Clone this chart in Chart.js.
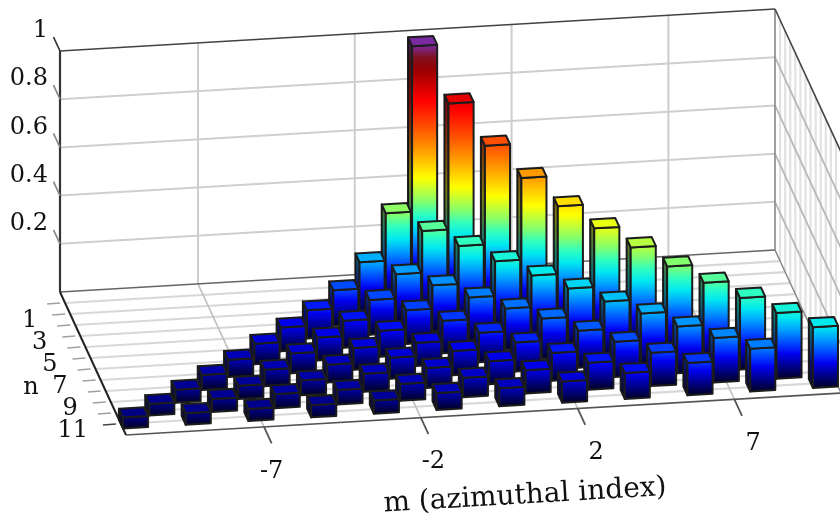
<!DOCTYPE html>
<html lang="en">
<head>
<meta charset="UTF-8">
<title>Zernike mode amplitudes</title>
<script src="https://cdn.jsdelivr.net/npm/chart.js"></script>
<style>
    body { margin: 0; background: #fff; }
    canvas { display: block; filter: blur(0.7px); }
</style>
</head>
<body>
<canvas id="myChart" width="840" height="515"></canvas>
<script>
    // one list per radial order n, m runs from -n to n in steps of 2
    const n0 = [1.0];
    const n1 = [.36, .80];
    const n2 = [.21, .324, .663];
    const n3 = [.147, .198, .30, .567];
    const n4 = [.117, .145, .19, .275, .488];
    const n5 = [.099, .112, .14, .178, .254, .434];
    const n6 = [.085, .095, .108, .134, .17, .2375, .393];
    const n7 = [.072, .082, .09, .096, .123, .166, .222, .352];
    const n8 = [.062, .068, .074, .0875, .10, .12, .154, .21, .3225];
    const n9 = [.054, .055, .062, .074, .083, .096, .115, .146, .194, .2975];
    const n10 = [.048, .053, .058, .06, .07, .08, .096, .112, .138, .184, .2725];
    const n11 = [.045, .048, .05, .05, .055, .07, .075, .0875, .108, .134, .178, .252];
    const rows = [n0, n1, n2, n3, n4, n5, n6, n7, n8, n9, n10, n11];

    const mTicks = [-7, -2, 3, 8];
    const mTickLabels = ['-7', '-2', '2', '7'];
    const zTicks = [.2, .4, .6, .8, 1];
    const zTickLabels = ['0.2', '0.4', '0.6', '0.8', '1'];
    const nLabels = [1, 3, 5, 7, 9, 11];

    // fake 3d: chart area is the back wall, the n axis is sheared off it
    const tilt = -0.0587;
    const depthX = 5.08;
    const depthY = 11;
    const barHalf = 0.4;
    const serif = '"DejaVu Serif", serif';

    const jetStops = [
        [0, '#00002a'], [.035, '#00006e'], [.07, '#0000b4'], [.1, '#0000ee'], [.13, '#0030ff'],
        [.17, '#0070ff'], [.2, '#00a0ff'], [.25, '#00e8f0'], [.3, '#30ffc0'], [.35, '#80ff70'],
        [.45, '#ffff00'], [.56, '#ffa000'], [.66, '#ff5000'], [.77, '#ff0000'], [.9, '#980000'],
        [.95, '#801020'], [1, '#7a2aa0']
    ];

    function hex(c) {
        return [1, 3, 5].map(i => parseInt(c.substr(i, 2), 16));
    }

    function jetAt(z) {
        for (let i = 1; i < jetStops.length; i++) {
            if (z <= jetStops[i][0]) {
                const a = jetStops[i - 1], b = jetStops[i];
                const t = (z - a[0]) / (b[0] - a[0]);
                const ca = hex(a[1]), cb = hex(b[1]);
                return 'rgb(' + ca.map((v, k) => Math.round(v + (cb[k] - v) * t)).join(',') + ')';
            }
        }
        return jetStops[jetStops.length - 1][1];
    }

    const bars3d = {
        id: 'bars3d',
        afterDatasetsDraw(chart) {
            const ctx = chart.ctx;
            const xs = chart.scales.x;
            const ys = chart.scales.y;
            const left = chart.chartArea.left;

            function project(m, n, z) {
                const px = xs.getPixelForValue(m);
                return [px + (n + 1) * depthX, ys.getPixelForValue(z) + (px - left) * tilt + (n + 1) * depthY];
            }

            function line(a, b, color, width) {
                ctx.strokeStyle = color;
                ctx.lineWidth = width;
                ctx.beginPath();
                ctx.moveTo(a[0], a[1]);
                ctx.lineTo(b[0], b[1]);
                ctx.stroke();
            }

            function poly(pts, fill) {
                ctx.beginPath();
                pts.forEach((p, i) => i ? ctx.lineTo(p[0], p[1]) : ctx.moveTo(p[0], p[1]));
                ctx.closePath();
                ctx.fillStyle = fill;
                ctx.fill();
                ctx.strokeStyle = '#1c1c1c';
                ctx.lineWidth = 2;
                ctx.lineJoin = 'round';
                ctx.stroke();
            }

            const mMin = xs.min, mMax = xs.max;
            const nBack = -1, nFront = 12;

            // right wall
            for (let n = 0; n < 12; n++) {
                line(project(mMax, n, 0), project(mMax, n, 1), '#e2e2e2', 2.2);
            }
            zTicks.forEach(z => {
                if (z < 1) line(project(mMax, nBack, z), project(mMax, nFront, z), '#b8b8b8', 1.8);
            });

            // back wall
            zTicks.forEach(z => {
                if (z < 1) line(project(mMin, nBack, z), project(mMax, nBack, z), '#cfcfcf', 2);
            });
            mTicks.forEach(m => line(project(m, nBack, 0), project(m, nBack, 1), '#cdcdcd', 2));

            // floor
            for (let n = 0; n < 12; n++) {
                line(project(mMin, n, 0), project(mMax, n, 0), '#d8d8d8', 2.2);
            }
            mTicks.forEach(m => line(project(m, nBack, 0), project(m, nFront, 0), '#bfbfbf', 1.6));

            // box edges
            line(project(mMax, nBack, 0), project(mMax, nBack, 1), '#888', 1.6);
            line(project(mMax, nBack, 0), project(mMax, nFront, 0), '#888', 1.5);
            line(project(mMin, nBack, 0), project(mMax, nBack, 0), '#666', 1.5);
            line(project(mMin, nFront, 0), project(mMax, nFront, 0), '#555', 1.7);
            line(project(mMin, nBack, 1), project(mMax, nBack, 1), '#444', 1.6);
            line(project(mMax, nBack, 1), project(mMax, nFront, 1), '#444', 1.6);
            line(project(mMin, nBack, 0), project(mMin, nBack, 1), '#333', 2.2);
            line(project(mMin, nBack, 0), project(mMin, nFront, 0), '#222', 2);

            // ticks
            zTicks.forEach(z => {
                const a = project(mMin, nBack, z);
                line(a, [a[0] - 6.5, a[1] - 14], z === 1 ? '#333' : '#888', 1.7);
            });
            for (let n = 0; n < 12; n++) {
                const a = project(mMin, n, 0);
                line([a[0] - 5, a[1]], [a[0] - 18, a[1] + 1], n === 11 ? '#444' : '#a0a0a0', 1.7);
            }
            mTicks.forEach(m => {
                line(project(m, nFront, 0), project(m, nFront + 1.5, 0), '#555', 1.8);
            });

            // bars, back row first so the front rows cover them
            chart.data.datasets.forEach((ds, n) => {
                ds.data.forEach(pt => {
                    const m = pt.x, z = pt.y;
                    const m0 = m - barHalf, m1 = m + barHalf;
                    const nb = n - barHalf, nf = n + barHalf;
                    const base = project(m, nf, 0);
                    const peak = project(m, nf, 1);
                    const grad = ctx.createLinearGradient(0, base[1], 0, peak[1]);
                    jetStops.forEach(s => grad.addColorStop(s[0], s[1]));

                    // left side
                    poly([project(m0, nb, 0), project(m0, nf, 0), project(m0, nf, z), project(m0, nb, z)], grad);
                    ctx.fillStyle = 'rgba(20,20,20,0.55)';
                    ctx.fill();
                    // front
                    poly([project(m0, nf, 0), project(m1, nf, 0), project(m1, nf, z), project(m0, nf, z)], grad);
                    // top last
                    poly([project(m0, nb, z), project(m1, nb, z), project(m1, nf, z), project(m0, nf, z)], jetAt(z));
                });
            });

            // text
            ctx.fillStyle = '#111';
            ctx.textBaseline = 'middle';
            ctx.font = '24px ' + serif;
            ctx.textAlign = 'right';
            zTicks.forEach((z, i) => {
                ctx.fillText(zTickLabels[i], 48, ys.getPixelForValue(z) - 20);
            });
            nLabels.forEach(n => {
                const a = project(mMin, n, 0);
                ctx.fillText(String(n), a[0] - 33, a[1] + 7);
            });
            ctx.textAlign = 'center';
            ctx.fillText('n', 31, 388);
            const dx = [0, 5, 11, 11];
            mTicks.forEach((m, i) => {
                const a = project(m, nFront + 1.5, 0);
                ctx.fillText(mTickLabels[i], a[0] + dx[i], a[1] + 28);
            });
            ctx.save();
            ctx.translate(525, 496);
            ctx.rotate(Math.atan(tilt));
            ctx.font = '28px ' + serif;
            ctx.fillText('m (azimuthal index)', 0, 0);
            ctx.restore();
        }
    };

    const datasets = rows.map((row, n) => ({
        label: 'n = ' + n,
        data: row.map((v, i) => ({ x: -n + 2 * i, y: v })),
        pointRadius: 0,
        showLine: false
    }));

    new Chart(document.getElementById('myChart').getContext('2d'), {
        type: 'scatter',
        data: { datasets },
        plugins: [bars3d],
        options: {
            responsive: false,
            animation: false,
            layout: { padding: { left: 60, right: 65, top: 51, bottom: 223 } },
            plugins: { legend: { display: false }, tooltip: { enabled: false } },
            scales: {
                x: { type: 'linear', min: -11.4, max: 11.4, display: false },
                y: { type: 'linear', min: 0, max: 1, display: false }
            }
        }
    });
</script>
</body>
</html>
